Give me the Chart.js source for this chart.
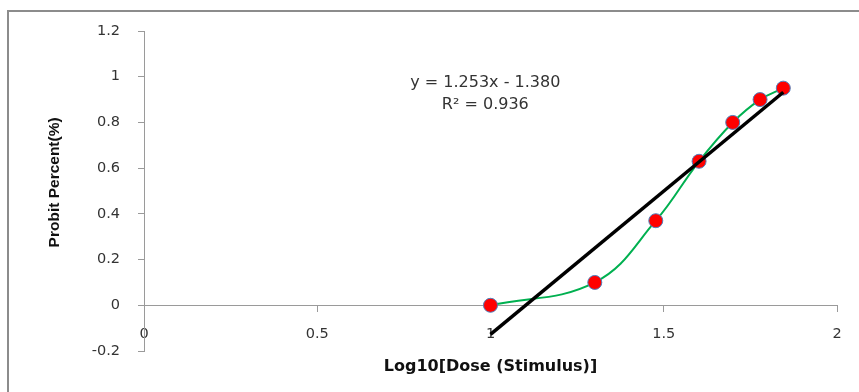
<!DOCTYPE html>
<html>
<head>
<meta charset="utf-8">
<script src="https://cdn.jsdelivr.net/npm/chart.js@4/dist/chart.umd.min.js"></script>
<style>
  html, body { margin: 0; padding: 0; background: #fff; overflow: hidden; }
  #chart { display: block; }
</style>
</head>
<body>
<canvas id="chart" width="859" height="392"></canvas>
<script>
// datos
const logDose = [1, 1.301, 1.477, 1.602, 1.699, 1.778, 1.845];
const probit  = [0, 0.10, 0.37, 0.63, 0.80, 0.90, 0.95];

// linea de tendencia (y = 1.253x - 1.380), extremos
const trendX = [1, 1.845];
const trendY = [-0.127, 0.932];

const xTicks = [0, 0.5, 1, 1.5, 2];
const xTickLabels = ["0", "0.5", "1", "1.5", "2"];
const yTicks = [-0.2, 0, 0.2, 0.4, 0.6, 0.8, 1, 1.2];
const yTickLabels = ["-0.2", "0", "0.2", "0.4", "0.6", "0.8", "1", "1.2"];

const eqLines = ["y = 1.253x - 1.380", "R\u00b2 = 0.936"];
const eqAnchor = { x: 0.985, y: 0.925 };

const AXIS_GRAY = "#9a9a9a";
const TEXT = "#333333";

const toPts = (xs, ys) => xs.map((x, i) => ({ x, y: ys[i] }));

// marco gris (solo lados izquierdo y superior quedan visibles)
const framePlugin = {
  id: "frame",
  beforeDraw(chart) {
    const { ctx, width, height } = chart;
    ctx.save();
    ctx.strokeStyle = "#8c8c8c";
    ctx.lineWidth = 2;
    ctx.beginPath();
    ctx.moveTo(8, height);
    ctx.lineTo(8, 11);
    ctx.lineTo(width, 11);
    ctx.stroke();
    ctx.restore();
  }
};

// texto de la ecuacion, anclado en coordenadas de datos
const equationPlugin = {
  id: "equation",
  afterDatasetsDraw(chart) {
    const { ctx, scales } = chart;
    const px = scales.x.getPixelForValue(eqAnchor.x);
    const py = scales.y.getPixelForValue(eqAnchor.y);
    const gap = 21.5;
    ctx.save();
    ctx.font = "16px 'DejaVu Sans'";
    ctx.fillStyle = TEXT;
    ctx.textAlign = "center";
    ctx.textBaseline = "middle";
    eqLines.forEach((t, i) => {
      ctx.fillText(t, px, py + (i - (eqLines.length - 1) / 2) * gap);
    });
    ctx.restore();
  }
};

new Chart(document.getElementById("chart").getContext("2d"), {
  type: "scatter",
  data: {
    datasets: [
      {
        label: "Linear",
        data: toPts(trendX, trendY),
        showLine: true,
        borderColor: "#000000",
        borderWidth: 3.5,
        pointRadius: 0,
        order: 0
      },
      {
        label: "Probit",
        data: toPts(logDose, probit),
        showLine: true,
        tension: 0.4,
        borderColor: "#00b050",
        borderWidth: 2,
        pointRadius: 7,
        pointBackgroundColor: "#ff0000",
        pointBorderColor: "#4f81bd",
        pointBorderWidth: 1,
        order: 1
      }
    ]
  },
  options: {
    responsive: false,
    animation: false,
    layout: { padding: { top: 31, right: 22, bottom: 41, left: 0 } },
    plugins: { legend: { display: false }, tooltip: { enabled: false } },
    scales: {
      x: {
        type: "linear",
        position: { y: 0 },
        min: xTicks[0],
        max: xTicks[xTicks.length - 1],
        afterBuildTicks: (s) => { s.ticks = xTicks.map(v => ({ value: v })); },
        ticks: {
          callback: (v, i) => xTickLabels[i],
          font: { family: "'DejaVu Sans'", size: 14.5 },
          color: TEXT,
          padding: 14,
          maxRotation: 0
        },
        grid: { drawOnChartArea: false, drawTicks: true, tickLength: 6, color: AXIS_GRAY },
        border: { display: true, color: AXIS_GRAY, width: 1 },
        title: {
          display: true,
          text: "Log10[Dose (Stimulus)]",
          font: { family: "'DejaVu Sans'", size: 16, weight: "bold" },
          color: "#111111",
          padding: { top: 1, bottom: 0 }
        }
      },
      y: {
        type: "linear",
        position: "left",
        min: yTicks[0],
        max: yTicks[yTicks.length - 1],
        afterBuildTicks: (s) => { s.ticks = yTicks.map(v => ({ value: v })); },
        afterFit: (s) => { s.width = 144; },
        ticks: {
          callback: (v, i) => yTickLabels[i],
          font: { family: "'DejaVu Sans'", size: 14.5 },
          color: TEXT,
          padding: 18
        },
        grid: { drawOnChartArea: false, drawTicks: true, tickLength: 6, color: AXIS_GRAY },
        border: { display: true, color: AXIS_GRAY, width: 1 },
        title: {
          display: true,
          text: "    Probit Percent(%)",
          font: { family: "'Liberation Sans'", size: 15.5, weight: "bold" },
          color: "#111111",
          padding: { top: 45, bottom: 0 }
        }
      }
    }
  },
  plugins: [framePlugin, equationPlugin]
});
</script>
</body>
</html>
